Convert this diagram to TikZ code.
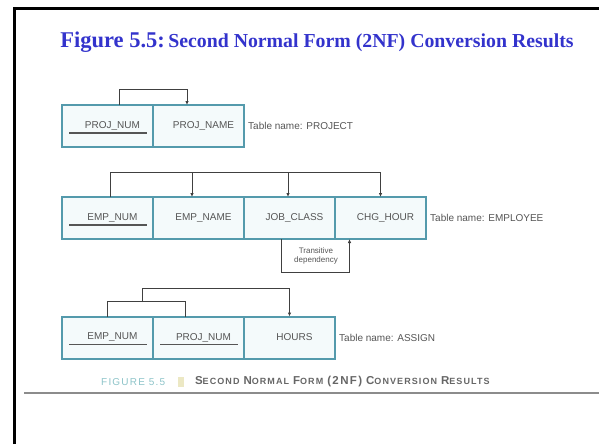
\documentclass[tikz,border=0pt]{standalone}
\usepackage{fontspec}
\setmainfont{Liberation Serif}
\newfontfamily\arialFont{Liberation Sans}
\newfontfamily\capFont[LetterSpace=12]{Liberation Sans}
\usetikzlibrary{positioning,arrows.meta}
\definecolor{titleBlue}{RGB}{51,51,204}
\definecolor{cellBorder}{RGB}{84,154,172}
\definecolor{cellFill}{RGB}{244,250,251}
\definecolor{attrGray}{RGB}{85,85,85}
\definecolor{captionTeal}{RGB}{140,195,200}
\definecolor{captionMark}{RGB}{236,232,196}
\tikzstyle{sheet} = [x=1pt, y=-1pt]
\tikzstyle{attrCell} = [draw=cellBorder, fill=cellFill, line width=2pt, minimum width=91pt, minimum height=42pt, outer sep=0pt, inner sep=0pt]
\tikzstyle{attrText} = [font=\arialFont\fontsize{10}{11}\selectfont, text=attrGray, inner sep=0pt]
\tikzstyle{keyLine} = [draw=attrGray, line width=1.6pt]
\tikzstyle{tableName} = [anchor=west, font=\arialFont\fontsize{10}{11}\selectfont, text=attrGray, inner sep=0pt]
\tikzstyle{noteText} = [font=\arialFont\fontsize{8}{9}\selectfont, text=attrGray, align=center, inner sep=0pt]
\tikzstyle{depLine} = [draw=black!75, line width=0.8pt]
\tikzstyle{depArrow} = [depLine, -{Latex[length=4pt,width=3.5pt]}]
% one attribute of a table: empty cell, text set a little right of centre
\newcommand{\attrCell}[3]{\node [attrCell, #1] (#2) {}; \node [attrText] (#2Text) at ([xshift=5pt]#2.center) {#3};}
% key attribute: same cell, underlined
\newcommand{\keyCell}[3]{\attrCell{#1}{#2}{#3} \draw [keyLine] ([xshift=7pt,yshift=-7pt]#2.west) -- ([xshift=-6pt,yshift=-7pt]#2.east);}
\newcommand{\capWord}[2]{{\fontsize{11.5}{12}\selectfont #1}{\fontsize{9}{10}\selectfont #2}}

\begin{document}
\begin{tikzpicture}[sheet]
\useasboundingbox (0,0) rectangle (599,444);
% page frame and rule
\draw [line width=3pt, line join=miter] (14,444) -- (14,8.7) -- (599,8.7);
\draw [black!45, line width=2.5pt] (24,393) -- (599,393);

% heading
\node [text=titleBlue, font=\bfseries] (heading) at (317,42) {{\fontsize{22.5}{24}\selectfont Figure 5.5:} {\fontsize{19.8}{22}\selectfont Second Normal Form (2NF) Conversion Results}};

% PROJECT
\keyCell{at={(107.5,126)}}{projNum}{PROJ\_NUM}
\attrCell{right=0pt of projNum}{projName}{PROJ\_NAME}
\node [tableName, right=4pt of projName] (projTable) {Table name: PROJECT};
\draw [depArrow] ([xshift=11.5pt]projNum.north) -- ++(0,-16) -| ([xshift=-11.5pt]projName.north);

% EMPLOYEE
\keyCell{at={(107.5,218)}}{empNum}{EMP\_NUM}
\attrCell{right=0pt of empNum}{empName}{EMP\_NAME}
\attrCell{right=0pt of empName}{jobClass}{JOB\_CLASS}
\attrCell{right=0pt of jobClass}{chgHour}{CHG\_HOUR}
\node [tableName, right=4pt of chgHour] (empTable) {Table name: EMPLOYEE};
\coordinate (nameIn) at ([xshift=-6.5pt]empName.north);
\coordinate (classIn) at ([xshift=-1.5pt]jobClass.north);
\draw [depArrow] ([xshift=2.5pt]empNum.north) -- ++(0,-25) coordinate (empBar) -| (chgHour.north);
\draw [depArrow] (nameIn |- empBar) -- (nameIn);
\draw [depArrow] (classIn |- empBar) -- (classIn);
% transitive dependency
\node [noteText] (transNote) at (316,256) {Transitive\\dependency};
\draw [depArrow] ([xshift=-8.5pt]jobClass.south) -- ++(0,33) -| ([xshift=-31pt]chgHour.south);

% ASSIGN
\keyCell{at={(107.5,337.5)}}{assignEmp}{EMP\_NUM}
\keyCell{right=0pt of assignEmp}{assignProj}{PROJ\_NUM}
\attrCell{right=0pt of assignProj}{hours}{HOURS}
\node [tableName, right=4pt of hours] (assignTable) {Table name: ASSIGN};
\draw [depLine] (assignEmp.north) -- ++(0,-15) coordinate (keyBar) -| ([xshift=-13.5pt]assignProj.north);
\coordinate (keyJoin) at (142,302);
\draw [depArrow] (keyJoin) -- ++(0,-14) -| (hours.north);

% book caption
\node [font=\capFont\fontsize{10}{11}\selectfont, text=captionTeal, anchor=west, inner sep=0pt] (capNum) at (101,382) {FIGURE 5.5};
\node [fill=captionMark, minimum width=6pt, minimum height=10pt, inner sep=0pt, right=12pt of capNum] (capMark) {};
\node [font=\capFont\bfseries, text=black!60, anchor=west, inner sep=0pt, right=11pt of capMark] (capText) {\capWord{S}{ECOND} \capWord{N}{ORMAL} \capWord{F}{ORM} {\fontsize{11.5}{12}\selectfont (2NF)} \capWord{C}{ONVERSION} \capWord{R}{ESULTS}};
\end{tikzpicture}
\end{document}
